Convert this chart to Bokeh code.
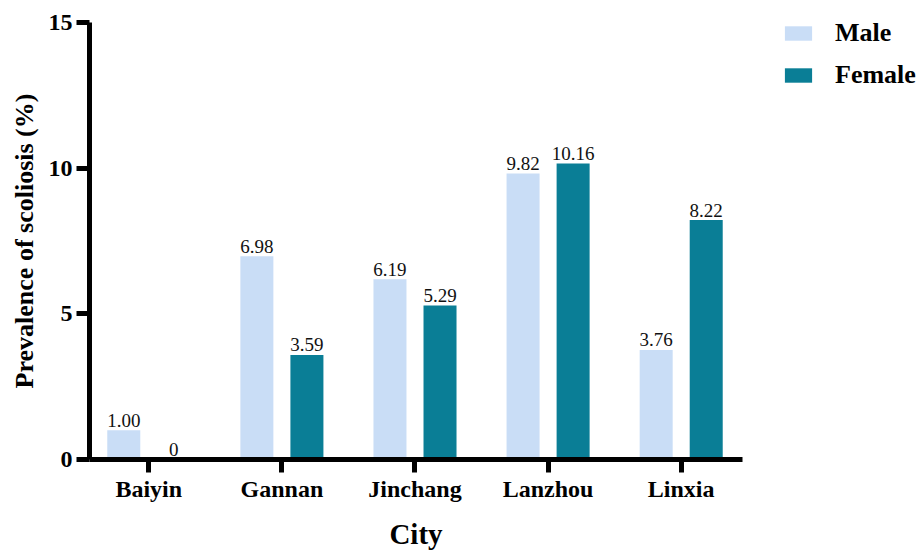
import math

from bokeh.plotting import figure
from bokeh.models import (ColumnDataSource, Range1d, FixedTicker,
                          Legend, LegendItem, Label)
from bokeh.transform import dodge
from bokeh.core.properties import value
from bokeh.embed import file_html
from bokeh.resources import INLINE

# Scoliosis prevalence (%) by city and sex
cities = ["Baiyin", "Gannan", "Jinchang", "Lanzhou", "Linxia"]
male = [1.00, 6.98, 6.19, 9.82, 3.76]
female = [0.00, 3.59, 5.29, 10.16, 8.22]
y_ticks = [0, 5, 10, 15]


def fmt(v):
    return "0" if v == 0 else f"{v:.2f}"


pos = list(range(len(cities)))
source = ColumnDataSource(data=dict(
    pos=pos,
    male=male,
    female=female,
    male_lbl=[fmt(v) for v in male],
    female_lbl=[fmt(v) for v in female],
))

SERIF = "'Liberation Serif', 'Times New Roman', serif"
MALE_COLOR = "#C9DDF6"
FEMALE_COLOR = "#0A7E96"

# The frame fills the whole canvas; the axes are pinned in place and only
# span the plotting area (pixel box below), the rest holds titles and legend.
W, H = 919, 550
AX_LEFT, AX_RIGHT, AX_TOP, AX_BOTTOM = 89, 742, 22, 459
x_lo, x_hi = -0.4455, 4.4606
y_lo, y_hi = 0, 15
kx = (x_hi - x_lo) / (AX_RIGHT - AX_LEFT)
ky = (y_hi - y_lo) / (AX_BOTTOM - AX_TOP)

p = figure(
    x_range=Range1d(x_lo - AX_LEFT * kx, x_hi + (W - AX_RIGHT) * kx),
    y_range=Range1d(y_lo - (H - AX_BOTTOM) * ky, y_hi + AX_TOP * ky),
    width=W, height=H,
    min_border=0,
    output_backend="svg", toolbar_location=None,
)

bar_w = 0.248
off = 0.188

r_male = p.vbar(x=dodge("pos", -off), top="male", width=bar_w,
                source=source, fill_color=MALE_COLOR, line_color=None)
r_female = p.vbar(x=dodge("pos", off), top="female", width=bar_w,
                  source=source, fill_color=FEMALE_COLOR, line_color=None)

# value labels above the bars
for col, lbl, dx in (("male", "male_lbl", -off), ("female", "female_lbl", off)):
    p.text(x=dodge("pos", dx), y=col, text=lbl, source=source,
           text_align="center", text_baseline="alphabetic", y_offset=-10,
           text_font=value(SERIF), text_font_size="19px", text_color="#111111")

# axes
p.xgrid.visible = False
p.ygrid.visible = False
p.outline_line_color = None
p.background_fill_color = "white"
p.border_fill_color = "white"

p.xaxis.ticker = FixedTicker(ticks=pos)
p.xaxis.major_label_overrides = {i: c for i, c in zip(pos, cities)}
p.xaxis.bounds = (x_lo, x_hi)
p.xaxis.fixed_location = y_lo
p.yaxis.ticker = FixedTicker(ticks=y_ticks)
p.yaxis.bounds = (y_lo, y_hi)
p.yaxis.fixed_location = x_lo
for ax in (p.xaxis[0], p.yaxis[0]):
    ax.axis_line_width = 5
    ax.axis_line_color = "black"
    ax.major_tick_line_width = 5
    ax.major_tick_line_color = "black"
    ax.major_tick_in = 0
    ax.major_tick_out = 13
    ax.minor_tick_line_color = None
    ax.major_label_text_font = SERIF
    ax.major_label_text_font_style = "bold"
    ax.major_label_text_font_size = "24px"
    ax.major_label_text_color = "black"

p.yaxis.major_label_standoff = 4
p.xaxis.major_label_standoff = 3

# axis titles
x_mid = (x_lo + x_hi) / 2
p.add_layout(Label(x=x_mid, y=y_lo, y_offset=-74, text="City",
                   text_align="center", text_baseline="alphabetic",
                   text_font=SERIF, text_font_style="bold",
                   text_font_size="29px", text_color="black"))
p.add_layout(Label(x=x_lo, y=(y_lo + y_hi) / 2, x_offset=-65, angle=math.pi / 2,
                   text="Prevalence of scoliosis (%)",
                   text_align="center", text_baseline="alphabetic",
                   text_font=SERIF, text_font_style="bold",
                   text_font_size="26px", text_color="black"))

legend = Legend(
    items=[LegendItem(label="Male", renderers=[r_male]),
           LegendItem(label="Female", renderers=[r_female])],
    location=(781, H - 90),
    orientation="vertical",
    glyph_width=34, glyph_height=18,
    label_standoff=20, spacing=12, padding=0, margin=0,
    label_text_font=SERIF, label_text_font_style="bold",
    label_text_font_size="26px", label_text_color="black",
    border_line_color=None, background_fill_alpha=0,
)
p.add_layout(legend)

open("out.html", "w").write(file_html(p, INLINE))
